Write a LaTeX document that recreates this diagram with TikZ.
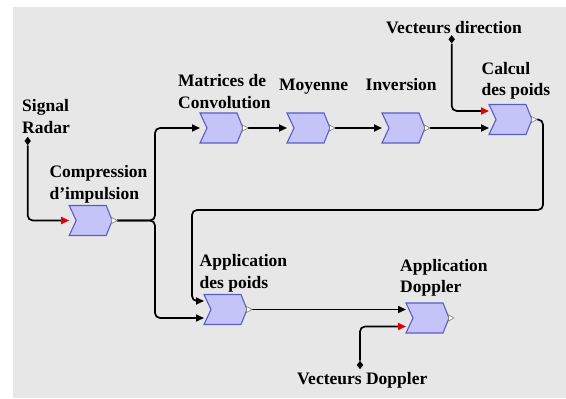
\documentclass[tikz,border=0pt]{standalone}
\usepackage{fontspec}
\setmainfont{Liberation Serif}
\usetikzlibrary{arrows.meta,shapes.geometric,calc}
\definecolor{panel}{RGB}{231,231,231}
\definecolor{blockfill}{RGB}{196,196,248}
\definecolor{blockline}{RGB}{92,92,200}
\definecolor{tipred}{RGB}{225,0,0}
\begin{document}
\begin{tikzpicture}[x=1pt,y=1pt,
  stage/.style={minimum width=43pt, minimum height=30pt, inner sep=0pt, outer sep=0pt},
  lbl/.style={anchor=base west, align=left, inner sep=0pt, font=\fontsize{17.5}{21.5}\selectfont\bfseries},
  src/.style={diamond, fill=black, inner sep=0pt, minimum width=6.5pt, minimum height=8.5pt},
  wire/.style={line width=1.7pt, rounded corners=5pt},
  feed/.style={wire, -{Triangle[length=8pt,width=7pt]}},
  ctrl/.style={wire, -{Triangle[length=8pt,width=7pt,color=tipred]}},
  chevron/.style={fill=blockfill, draw=blockline, line width=1.1pt, line join=miter},
  outtip/.style={fill=white, draw=gray, line width=0.6pt}]

\useasboundingbox (0,0) rectangle (566,399);
\fill[panel] (13,0.5) rectangle (566,392);

% processing stages
\node[stage] (comp) at (90.7,178.5) {};
\node[stage] (mat)  at (221.5,271) {};
\node[stage] (moy)  at (308.5,271) {};
\node[stage] (inv)  at (403.5,271) {};
\node[stage] (calc) at (510.5,279.5) {};
\node[stage] (appp) at (225.5,89.5) {};
\node[stage] (dop)  at (427.5,81) {};

% external inputs
\node[src] (sigin) at (27.7,258) {};
\node[src] (vdir)  at (451.7,359.7) {};
\node[src] (vdop)  at (360,34) {};

% routing points
\coordinate (split) at (155,178.5);
\coordinate (loopR) at (543,189);
\coordinate (loopL) at (192,189);

% labels (multi-line labels are placed by the baseline of their last line)
\node[lbl] (tsig)  at (22,265.7)   {Signal\\Radar};
\node[lbl] (tcomp) at (49.4,199.7) {Compression\\d’impulsion};
\node[lbl] (tmat)  at (178,290.7)  {Matrices de\\Convolution};
\node[lbl] (tmoy)  at (279,308.3)  {Moyenne};
\node[lbl] (tinv)  at (365.5,308.3){Inversion};
\node[lbl] (tcalc) at (481.5,303.3){Calcul\\des poids};
\node[lbl] (tvdir) at (386,365.7)  {Vecteurs direction};
\node[lbl] (tappp) at (199.5,110.7){Application\\des poids};
\node[lbl] (tdop)  at (400,106.3)  {Application\\Doppler};
\node[lbl] (tvdop) at (297,14.5)   {Vecteurs Doppler};

% connectors
\draw[ctrl] (sigin) |- (comp.west);
\draw[feed] ([xshift=5pt]comp.east) -- (split) |- (mat.west);
\draw[feed] ([xshift=5pt]comp.east) -- (split) |- ([yshift=-8.5pt]appp.west);
\draw[feed] ([xshift=5pt]mat.east) -- (moy.west);
\draw[feed] ([xshift=5pt]moy.east) -- (inv.west);
\draw[feed] ([xshift=5pt]inv.east) -- ([yshift=-8.5pt]calc.west);
\draw[ctrl] (vdir) |- ([yshift=8.5pt]calc.west);
\draw[feed] ([xshift=5pt]calc.east) -| (loopR) -- (loopL) |- ([yshift=8.5pt]appp.west);
\draw[feed] ([xshift=5pt]appp.east) -- ([yshift=8.5pt]dop.west);
\draw[ctrl] (vdop) |- ([yshift=-8.5pt]dop.west);

% chevron bodies and output markers
\foreach \b in {comp,mat,moy,inv,calc,appp,dop}{
  \draw[chevron] (\b.north west) -- ([xshift=-6pt]\b.north east) -- (\b.east)
    -- ([xshift=-6pt]\b.south east) -- (\b.south west) -- ([xshift=7pt]\b.west) -- cycle;
  \draw[outtip] ([xshift=-0.5pt,yshift=3pt]\b.east) -- ([xshift=5pt]\b.east)
    -- ([xshift=-0.5pt,yshift=-3pt]\b.east) -- cycle;
}
\end{tikzpicture}
\end{document}
